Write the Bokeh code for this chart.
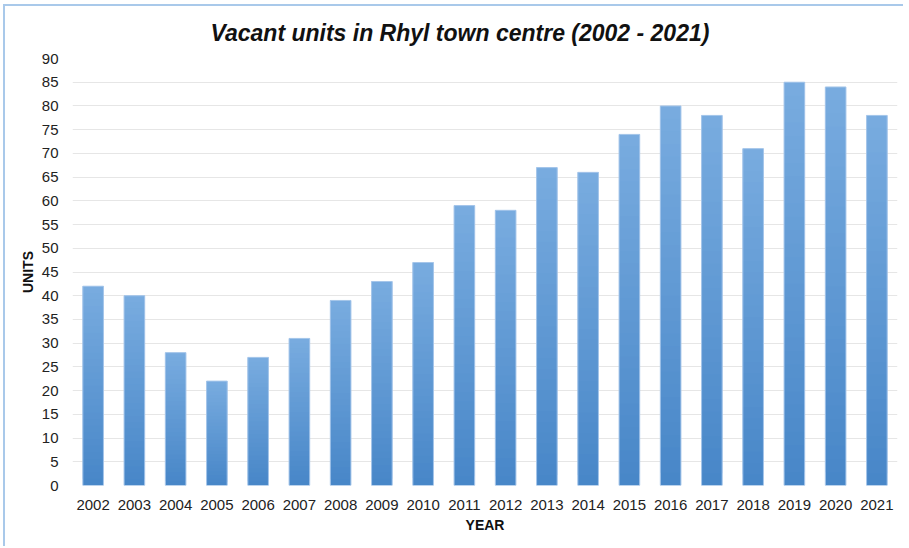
from bokeh.plotting import figure
from bokeh.models import ColumnDataSource
from bokeh.embed import file_html
from bokeh.resources import INLINE

years = [str(y) for y in range(2002, 2022)]
units = [42, 40, 28, 22, 27, 31, 39, 43, 47, 59, 58, 67, 66, 74, 80, 78, 71, 85, 84, 78]
y_ticks = list(range(0, 91, 5))
title_text = "Vacant units in Rhyl town centre (2002 - 2021)"

# gradient end colours (bottom -> top)
c_bottom = (0x48, 0x87, 0xc8)
c_top = (0x78, 0xab, 0xdf)
n_seg = 30

seg_x, seg_bottom, seg_top, seg_color = [], [], [], []
for yr, v in zip(years, units):
    for i in range(n_seg):
        t = i / (n_seg - 1)
        col = tuple(int(round(c_bottom[k] + (c_top[k] - c_bottom[k]) * t)) for k in range(3))
        seg_x.append(yr)
        seg_bottom.append(v * i / n_seg)
        seg_top.append(min(v, v * (i + 2) / n_seg))
        seg_color.append("#%02x%02x%02x" % col)

seg_src = ColumnDataSource(dict(x=seg_x, bottom=seg_bottom, top=seg_top, color=seg_color))
bar_src = ColumnDataSource(dict(x=years, top=units))

p = figure(width=900, height=542, x_range=years, y_range=(0, 90),
           output_backend="svg", toolbar_location=None,
           min_border_left=67, min_border_right=8,
           min_border_top=52, min_border_bottom=63)
p.styles = {"border-left": "2px solid #a9c9ea", "border-top": "2px solid #a9c9ea",
            "margin-left": "3px", "margin-top": "4px"}
p.outline_line_color = None
p.background_fill_color = "white"
p.border_fill_color = "white"

p.title.text = title_text
p.title.align = "left"
p.title.offset = 138
p.title.vertical_align = "top"
p.title.text_font = "Liberation Sans"
p.title.text_font_size = "23px"
p.title.text_font_style = "bold italic"
p.title.text_color = "#111111"
p.title.standoff = 22

p.vbar(x="x", bottom="bottom", top="top", width=0.5, fill_color="color",
       line_color=None, source=seg_src)
p.vbar(x="x", top="top", width=0.5, fill_alpha=0, line_color="#a6c6ea",
       line_width=1, source=bar_src)

p.xgrid.grid_line_color = None
p.ygrid.grid_line_color = "#e6e6e6"
p.ygrid.grid_line_width = 1
p.yaxis.ticker = y_ticks

for ax in (p.xaxis, p.yaxis):
    ax.axis_line_color = None
    ax.major_tick_line_color = None
    ax.minor_tick_line_color = None
    ax.major_label_text_font = "Liberation Sans"
    ax.major_label_text_font_size = "15px"
    ax.major_label_text_color = "#222222"
    ax.axis_label_text_font = "Liberation Sans"
    ax.axis_label_text_font_size = "14px"
    ax.axis_label_text_font_style = "bold"
    ax.axis_label_text_color = "#111111"

p.xaxis.axis_label = "YEAR"
p.yaxis.axis_label = "UNITS"
p.xaxis.major_label_standoff = 8
p.xaxis.axis_label_standoff = 4
p.yaxis.major_label_standoff = 8
p.yaxis.axis_label_standoff = 3

open("out.html", "w").write(file_html(p, INLINE))
